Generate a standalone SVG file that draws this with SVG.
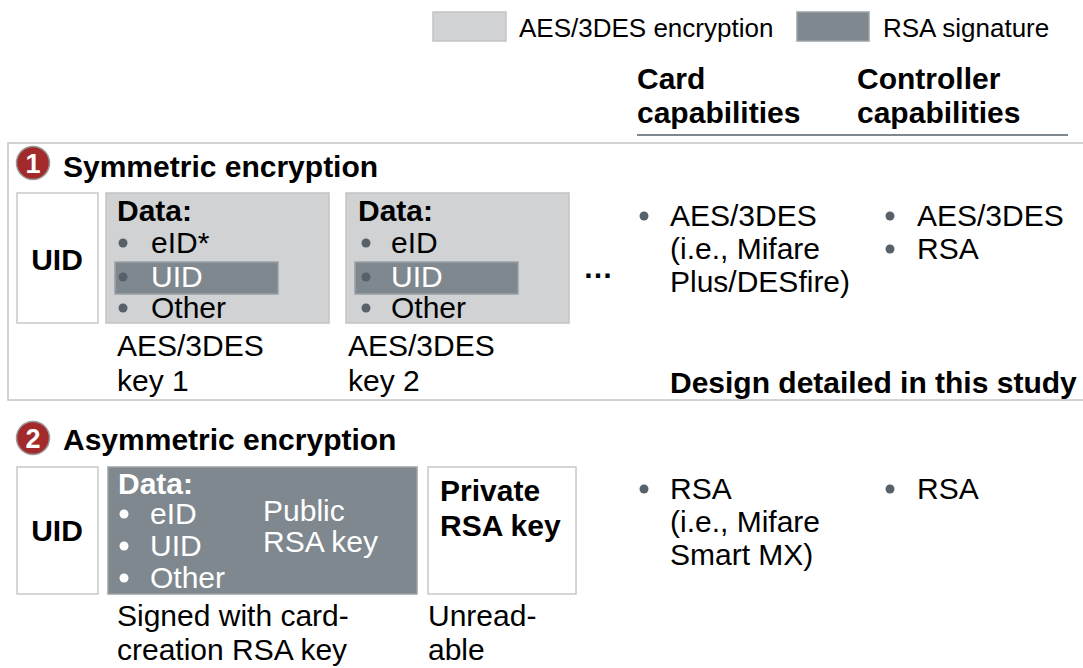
<svg xmlns="http://www.w3.org/2000/svg" width="1083" height="668" viewBox="0 0 1083 668">
  <style>
    text { font-family: "Liberation Sans", Arial, sans-serif; font-size: 30px; fill: #000; }
    .b { font-weight: bold; }
    .w { fill: #fff; }
    .leg { font-size: 26px; }
    .light { fill: #d1d2d4; stroke: #c3c4c6; stroke-width: 1.5; }
    .dark { fill: #7f888f; stroke: #9aa1a6; stroke-width: 1.5; }
    .plain { fill: #fff; stroke: #c8c8c8; stroke-width: 1.5; }
    .frame { fill: none; stroke: #c4c4c4; stroke-width: 1.5; }
    .dot { fill: #58616a; }
    .wdot { fill: #fff; }
    .num { fill: #a22a2a; stroke: #9a9a9a; stroke-width: 1.5; }
    .numt { font-size: 27px; font-weight: bold; fill: #fff; text-anchor: middle; }
  </style>

  <!-- legend -->
  <g id="legend">
    <rect class="light" x="433" y="12" width="73" height="29"/>
    <text class="leg" x="519" y="37">AES/3DES encryption</text>
    <rect class="dark" x="797" y="12" width="72" height="29"/>
    <text class="leg" x="883" y="37">RSA signature</text>
  </g>

  <!-- column headers -->
  <g id="headers">
    <text class="b" x="637" y="89">Card</text>
    <text class="b" x="637" y="123">capabilities</text>
    <text class="b" x="857" y="89">Controller</text>
    <text class="b" x="857" y="123">capabilities</text>
    <line x1="637" y1="135" x2="1068" y2="135" stroke="#56606a" stroke-width="1.6"/>
  </g>

  <!-- section 1: symmetric encryption -->
  <g id="section-symmetric">
    <rect class="frame" x="8" y="143" width="1090" height="257"/>
    <circle class="num" cx="33" cy="163" r="16.5"/>
    <text class="numt" x="33" y="173">1</text>
    <text class="b" x="63" y="177">Symmetric encryption</text>
  </g>

  <g id="sym-uid">
    <rect class="plain" x="17" y="193" width="81" height="130"/>
    <text class="b" x="57" y="270" text-anchor="middle">UID</text>
  </g>

  <g id="sym-data-1">
    <rect class="light" x="106" y="193" width="223" height="130"/>
    <rect class="dark" x="115" y="262" width="163" height="32"/>
    <text class="b" x="117" y="221">Data:</text>
    <circle class="dot" cx="123" cy="243" r="4.5"/>
    <text x="151" y="253">eID*</text>
    <circle class="dot" cx="123" cy="277" r="4.5"/>
    <text class="w" x="151" y="287">UID</text>
    <circle class="dot" cx="123" cy="308" r="4.5"/>
    <text x="151" y="318">Other</text>
    <text x="117" y="356">AES/3DES</text>
    <text x="117" y="391">key 1</text>
  </g>

  <g id="sym-data-2">
    <rect class="light" x="346" y="193" width="223" height="130"/>
    <rect class="dark" x="355" y="262" width="163" height="32"/>
    <text class="b" x="358" y="221">Data:</text>
    <circle class="dot" cx="366" cy="243" r="4.5"/>
    <text x="391" y="253">eID</text>
    <circle class="dot" cx="366" cy="277" r="4.5"/>
    <text class="w" x="391" y="287">UID</text>
    <circle class="dot" cx="366" cy="308" r="4.5"/>
    <text x="391" y="318">Other</text>
    <text x="348" y="356">AES/3DES</text>
    <text x="348" y="391">key 2</text>
  </g>

  <g id="sym-more">
    <text class="b" x="583" y="278" font-size="26">…</text>
  </g>

  <g id="sym-card">
    <circle class="dot" cx="644" cy="216" r="4.5"/>
    <text x="670" y="226">AES/3DES</text>
    <text x="670" y="259">(i.e., Mifare</text>
    <text x="670" y="292">Plus/DESfire)</text>
  </g>

  <g id="sym-controller">
    <circle class="dot" cx="890" cy="216" r="4.5"/>
    <text x="917" y="226">AES/3DES</text>
    <circle class="dot" cx="890" cy="249" r="4.5"/>
    <text x="917" y="259">RSA</text>
  </g>

  <g id="sym-note">
    <text class="b" x="670" y="393">Design detailed in this study</text>
  </g>

  <!-- section 2: asymmetric encryption -->
  <g id="section-asymmetric">
    <circle class="num" cx="33" cy="438" r="16.5"/>
    <text class="numt" x="33" y="448">2</text>
    <text class="b" x="63" y="450">Asymmetric encryption</text>
  </g>

  <g id="asym-uid">
    <rect class="plain" x="17" y="467" width="81" height="127"/>
    <text class="b" x="57" y="541" text-anchor="middle">UID</text>
  </g>

  <g id="asym-data">
    <rect class="dark" x="108" y="467" width="309" height="127"/>
    <text class="b w" x="118" y="494">Data:</text>
    <circle class="wdot" cx="124" cy="514" r="4.5"/>
    <text class="w" x="150" y="524">eID</text>
    <circle class="wdot" cx="124" cy="546" r="4.5"/>
    <text class="w" x="150" y="556">UID</text>
    <circle class="wdot" cx="124" cy="578" r="4.5"/>
    <text class="w" x="150" y="588">Other</text>
    <text class="w" x="263" y="521">Public</text>
    <text class="w" x="263" y="552">RSA key</text>
    <text x="117" y="626">Signed with card-</text>
    <text x="117" y="660">creation RSA key</text>
  </g>

  <g id="asym-private-key">
    <rect class="plain" x="428" y="467" width="148" height="127"/>
    <text class="b" x="440" y="501">Private</text>
    <text class="b" x="440" y="536">RSA key</text>
    <text x="428" y="626">Unread-</text>
    <text x="428" y="660">able</text>
  </g>

  <g id="asym-card">
    <circle class="dot" cx="644" cy="489" r="4.5"/>
    <text x="670" y="499">RSA</text>
    <text x="670" y="532">(i.e., Mifare</text>
    <text x="670" y="565">Smart MX)</text>
  </g>

  <g id="asym-controller">
    <circle class="dot" cx="890" cy="489" r="4.5"/>
    <text x="917" y="499">RSA</text>
  </g>
</svg>
